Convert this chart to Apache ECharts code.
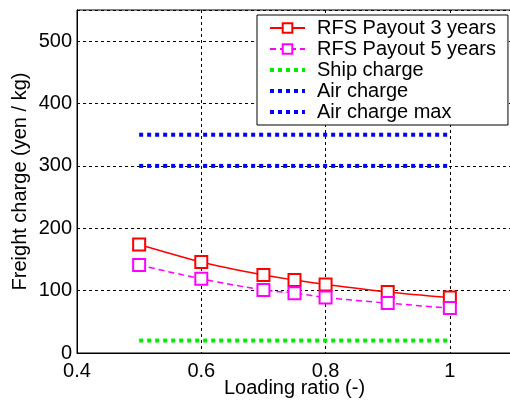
<!DOCTYPE html>
<html>
<head>
<meta charset="utf-8">
<script src="https://cdn.jsdelivr.net/npm/echarts@6/dist/echarts.min.js"></script>
<style>
  html, body { margin: 0; padding: 0; background: #fff; }
  #chart { width: 510px; height: 403px; }
</style>
</head>
<body>
<div id="chart"></div>
<script>
// loading ratio values
const loadingRatio = [0.5, 0.6, 0.7, 0.75, 0.8, 0.9, 1.0];
const payout3 = [174, 146, 125, 117, 110, 98, 89];
const payout5 = [141, 119, 101, 96, 89, 80, 72];
// flat reference charges, drawn from 0.5 to 1
const refRange = [0.5, 1.0];
const shipCharge = 20;
const airCharge = 300;
const airChargeMax = 350;

const font = 'Liberation Sans, Arial, Helvetica, sans-serif';
const pairs = (xs, ys) => xs.map((x, i) => [x, ys[i]]);
const flat = v => refRange.map(x => [x, v]);
const dotted = { width: 4, type: [4, 4] };

const chart = echarts.init(document.getElementById('chart'));

chart.setOption({
  animation: false,
  backgroundColor: '#fff',
  grid: {
    left: 77, top: 10, width: 435, height: 343,
    containLabel: false,
    outerBoundsMode: 'none',
    show: true, borderColor: '#000', borderWidth: 1
  },
  legend: {
    left: 257, top: 15,
    orient: 'vertical',
    backgroundColor: '#fff',
    borderColor: '#000',
    borderWidth: 1,
    padding: [3, 12, 3, 11],
    itemWidth: 35,
    itemHeight: 12,
    itemGap: 1,
    textStyle: { fontFamily: font, fontSize: 20, color: '#000', lineHeight: 20, padding: [0, 0, 0, 7] },
    data: [
      'RFS Payout 3 years',
      'RFS Payout 5 years',
      { name: 'Ship charge', itemStyle: { opacity: 0 }, lineStyle: dotted },
      { name: 'Air charge', itemStyle: { opacity: 0 }, lineStyle: dotted },
      { name: 'Air charge max', itemStyle: { opacity: 0 }, lineStyle: dotted }
    ]
  },
  xAxis: {
    type: 'value',
    min: 0.4, max: 1.1, interval: 0.2,
    name: 'Loading ratio (-)',
    nameLocation: 'middle',
    nameGap: 25,
    nameMoveOverlap: false,
    nameTextStyle: { fontFamily: font, fontSize: 20, color: '#000' },
    axisLine: { lineStyle: { color: '#000' } },
    axisTick: { show: false },
    axisLabel: {
      fontFamily: font, fontSize: 20, color: '#000', margin: 8,
      formatter: v => (v > 1.05 ? '' : String(+v.toFixed(1)))
    },
    splitLine: { lineStyle: { color: '#000', type: [3, 3], width: 1 } }
  },
  yAxis: {
    type: 'value',
    min: 0, max: 550, interval: 100,
    name: 'Freight charge (yen / kg)',
    nameLocation: 'middle',
    nameGap: 47,
    nameMoveOverlap: false,
    nameTextStyle: { fontFamily: font, fontSize: 20, color: '#000' },
    axisLine: { show: true, lineStyle: { color: '#000' } },
    axisTick: { show: false },
    axisLabel: {
      fontFamily: font, fontSize: 20, color: '#000', margin: 5,
      formatter: v => (v > 520 ? '' : String(v))
    },
    splitLine: { lineStyle: { color: '#000', type: [3, 3], width: 1 } }
  },
  series: [
    {
      name: 'RFS Payout 3 years', type: 'line', smooth: 0.3,
      data: pairs(loadingRatio, payout3),
      symbol: 'emptyRect', symbolSize: 12,
      lineStyle: { color: '#ff0000', width: 1.5 },
      itemStyle: { color: '#ff0000', borderWidth: 1.5 }
    },
    {
      name: 'RFS Payout 5 years', type: 'line', smooth: 0.3,
      data: pairs(loadingRatio, payout5),
      symbol: 'emptyRect', symbolSize: 12,
      lineStyle: { color: '#ff00ff', width: 1.5, type: [6, 4] },
      itemStyle: { color: '#ff00ff', borderWidth: 1.5 }
    },
    {
      name: 'Ship charge', type: 'line', data: flat(shipCharge),
      symbol: 'none',
      lineStyle: Object.assign({ color: '#00ee00' }, dotted),
      itemStyle: { color: '#00ee00' }
    },
    {
      name: 'Air charge', type: 'line', data: flat(airCharge),
      symbol: 'none',
      lineStyle: Object.assign({ color: '#0000ff' }, dotted),
      itemStyle: { color: '#0000ff' }
    },
    {
      name: 'Air charge max', type: 'line', data: flat(airChargeMax),
      symbol: 'none',
      lineStyle: Object.assign({ color: '#0000ff' }, dotted),
      itemStyle: { color: '#0000ff' }
    }
  ]
});
</script>
</body>
</html>
